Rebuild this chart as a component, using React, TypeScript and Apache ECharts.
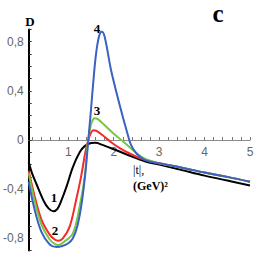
import React, { useEffect, useRef } from "react";
import * as echarts from "echarts";

const blackX = [0.127, 0.2, 0.3, 0.45, 0.56, 0.67, 0.76, 0.85, 0.96, 1.1, 1.25, 1.36, 1.5, 1.6, 1.75, 2.0, 2.3, 2.7, 3.0, 3.5, 4.0, 4.5, 5.0];
const blackY = [-0.18, -0.27, -0.36, -0.49, -0.555, -0.58, -0.56, -0.49, -0.38, -0.22, -0.1, -0.05, -0.025, -0.022, -0.04, -0.075, -0.12, -0.175, -0.2, -0.245, -0.29, -0.33, -0.37];

const redX = [0.127, 0.26, 0.41, 0.59, 0.7, 0.78, 0.88, 1.03, 1.17, 1.28, 1.38, 1.44, 1.5, 1.55, 1.62, 1.75, 1.95, 2.15, 2.35, 2.6, 3.0, 3.5, 4.0, 4.5, 5.0];
const redY = [-0.25, -0.46, -0.65, -0.77, -0.81, -0.82, -0.8, -0.705, -0.49, -0.3, -0.09, 0.0, 0.06, 0.08, 0.075, 0.04, -0.02, -0.07, -0.11, -0.15, -0.19, -0.225, -0.265, -0.3, -0.34];

const greenX = [0.127, 0.26, 0.41, 0.59, 0.7, 0.78, 0.9, 1.1, 1.25, 1.36, 1.43, 1.5, 1.55, 1.58, 1.65, 1.8, 2.0, 2.2, 2.4, 2.65, 3.0, 3.5, 4.0, 4.5, 5.0];
const greenY = [-0.27, -0.5, -0.69, -0.81, -0.845, -0.855, -0.83, -0.76, -0.54, -0.3, -0.02, 0.13, 0.17, 0.178, 0.17, 0.12, 0.05, -0.01, -0.075, -0.145, -0.19, -0.225, -0.265, -0.3, -0.34];

const blueX = [0.127, 0.26, 0.41, 0.59, 0.74, 0.85, 1.0, 1.1, 1.2, 1.3, 1.38, 1.44, 1.5, 1.54, 1.61, 1.68, 1.735, 1.8, 1.94, 2.12, 2.3, 2.38, 2.5, 2.67, 2.85, 3.0, 3.5, 4.0, 4.5, 5.0];
const blueY = [-0.34, -0.57, -0.75, -0.85, -0.87, -0.865, -0.84, -0.8, -0.7, -0.5, -0.25, 0.0, 0.25, 0.43, 0.7, 0.85, 0.88, 0.84, 0.57, 0.3, 0.055, -0.04, -0.11, -0.16, -0.18, -0.19, -0.225, -0.265, -0.3, -0.34];

const xLabelValues = [1, 2, 3, 4, 5];
const yLabelValues = [-0.8, -0.4, 0, 0.4, 0.8];

const pairs = (xs: number[], ys: number[]) => xs.map((x, i) => [x, ys[i]]);

export default function App() {
  const ref = useRef<HTMLDivElement>(null);
  useEffect(() => {
    if (!ref.current) return;
    const chart = echarts.init(ref.current, undefined, { renderer: "svg" });
    const xTicks: number[] = [];
    for (let i = 1; i <= 25; i++) xTicks.push(Math.round(i * 2) / 10);
    const yTicks: number[] = [];
    for (let i = -9; i <= 9; i++) yTicks.push(i / 10);
    const serif = "Liberation Serif";
    const lineSeries = (name: string, xs: number[], ys: number[], color: string) => ({
      name,
      type: "line",
      data: pairs(xs, ys),
      smooth: 0.35,
      showSymbol: false,
      lineStyle: { color, width: 2 },
    });
    chart.setOption({
      animation: false,
      grid: { left: 27, right: 28, top: 29.4, bottom: 27.4 },
      xAxis: {
        type: "value",
        min: 0.127,
        max: 5,
        offset: -110.6,
        axisLine: { onZero: false, lineStyle: { color: "#8a8a8a", width: 1 } },
        axisTick: { inside: true, length: 3, customValues: xTicks, lineStyle: { color: "#777" } },
        axisLabel: {
          customValues: xLabelValues,
          color: "#666",
          fontSize: 12,
          fontFamily: "Liberation Sans",
          margin: 6,
        },
        splitLine: { show: false },
      },
      yAxis: {
        type: "value",
        min: -0.9,
        max: 0.9,
        axisLine: { show: true, onZero: false, lineStyle: { color: "#000", width: 2 } },
        axisTick: { inside: true, length: 3, customValues: yTicks, lineStyle: { color: "#333" } },
        axisLabel: {
          customValues: yLabelValues,
          color: "#666",
          fontSize: 12,
          fontFamily: "Liberation Sans",
          margin: 5,
          formatter: (v: number) => (Math.abs(v) < 1e-9 ? "0" : v.toFixed(1).replace(".", ",")),
        },
        splitLine: { show: false },
      },
      series: [
        lineSeries("1", blackX, blackY, "#000000"),
        lineSeries("2", redX, redY, "#f52a2a"),
        lineSeries("3", greenX, greenY, "#78c641"),
        lineSeries("4", blueX, blueY, "#3a62c2"),
      ],
      graphic: [
        { type: "text", x: 30, y: 21, style: { text: "D", font: `bold 13px "${serif}"`, fill: "#000", align: "center", verticalAlign: "middle" } },
        { type: "text", x: 218, y: 13, style: { text: "c", font: `bold 25px "${serif}"`, fill: "#000", align: "center", verticalAlign: "middle" } },
        { type: "text", x: 97, y: 28, style: { text: "4", font: `bold 13px "${serif}"`, fill: "#000", align: "center", verticalAlign: "middle" } },
        { type: "text", x: 97, y: 110, style: { text: "3", font: `bold 13px "${serif}"`, fill: "#000", align: "center", verticalAlign: "middle" } },
        { type: "text", x: 54, y: 197, style: { text: "1", font: `bold 13px "${serif}"`, fill: "#000", align: "center", verticalAlign: "middle" } },
        { type: "text", x: 55, y: 230, style: { text: "2", font: `bold 13px "${serif}"`, fill: "#000", align: "center", verticalAlign: "middle" } },
        { type: "text", x: 133, y: 170, style: { text: "|t|,", font: `12px "${serif}"`, fill: "#000", align: "left", verticalAlign: "middle" } },
        { type: "text", x: 133, y: 186, style: { text: "(GeV)²", font: `bold 12px "${serif}"`, fill: "#000", align: "left", verticalAlign: "middle" } },
      ],
    });
    return () => chart.dispose();
  }, []);
  return <div ref={ref} style={{ position: "fixed", left: 0, top: 0, width: 278, height: 278, background: "#fff" }} />;
}
